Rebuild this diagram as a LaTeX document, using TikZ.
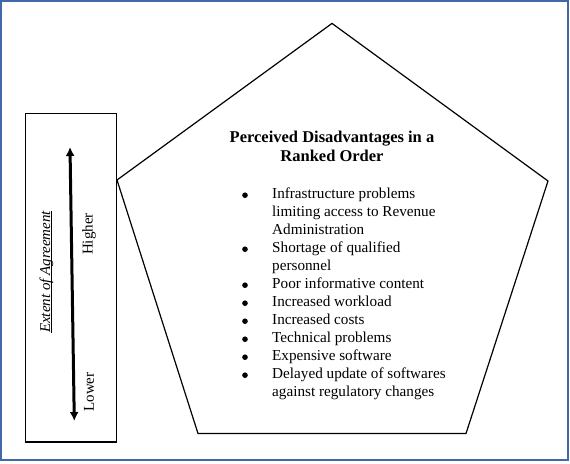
\documentclass[tikz,border=0pt]{standalone}
\usepackage{fontspec}
\setmainfont{Liberation Serif}
\usetikzlibrary{arrows.meta,calc}
\definecolor{framecol}{RGB}{65,105,170}
\begin{document}
\begin{tikzpicture}[x=1pt,y=-1pt,
  outline/.style={draw=black,line width=1.2pt},
  bodyfont/.style={font=\fontsize{15.2}{18}\selectfont},
  sidelabel/.style={inner sep=0pt,rotate=90,font=\fontsize{15}{18}\selectfont},
  titlefont/.style={font=\fontsize{16.5}{19}\selectfont\bfseries},
  bul/.style={fill=black}]
\useasboundingbox (0,0) rectangle (570,463);
% outer frame
\draw[framecol,line width=2pt] (0.8,1) rectangle (568.3,460.2);
% left box
\draw[outline] (25.5,113.8) rectangle (116.4,442);
% pentagon
\coordinate (ptop) at (332,23.4);
\coordinate (pright) at (548,181);
\coordinate (pbr) at (466,433.5);
\coordinate (pbl) at (198,433.5);
\coordinate (pleft) at (117,180);
\draw[outline,line join=miter] (ptop) -- (pright) -- (pbr) -- (pbl) -- (pleft) -- cycle;
% arrow
\coordinate (atop) at (70,147);
\coordinate (abot) at (74.3,421);
\draw[line width=3pt,{Latex[length=9pt,width=9pt]}-{Latex[length=9pt,width=9pt]}] (atop) -- (abot);
% side labels
\node[sidelabel,font=\fontsize{15}{18}\selectfont\itshape] (extent) at (46.5,272) {Extent of Agreement};
\draw[line width=0.7pt] ($(extent.base west)+(1.3,0)$) -- ($(extent.base east)+(1.3,0)$);
\node[sidelabel] (higher) at (89,234) {Higher};
\node[sidelabel] (lower) at (89,392) {Lower};
% title
\node[titlefont,inner sep=0pt,anchor=base] (title) at (332,142)
  {\begin{tabular}[t]{@{}c@{}}Perceived Disadvantages in a\\Ranked Order\end{tabular}};
% list
\node[bodyfont,inner sep=0pt,anchor=base west] (list) at (272,198.5)
  {\renewcommand\arraystretch{1}\begin{tabular}[t]{@{}l@{}}
  Infrastructure problems\\
  limiting access to Revenue\\
  Administration\\
  Shortage of qualified\\
  personnel\\
  Poor informative content\\
  Increased workload\\
  Increased costs\\
  Technical problems\\
  Expensive software\\
  Delayed update of softwares\\
  against regulatory changes
  \end{tabular}};
% bullets
\foreach \r in {0,3,5,6,7,8,9,10}
  \fill[bul] (245,195.2+18*\r) circle (2.8);
\end{tikzpicture}
\end{document}
